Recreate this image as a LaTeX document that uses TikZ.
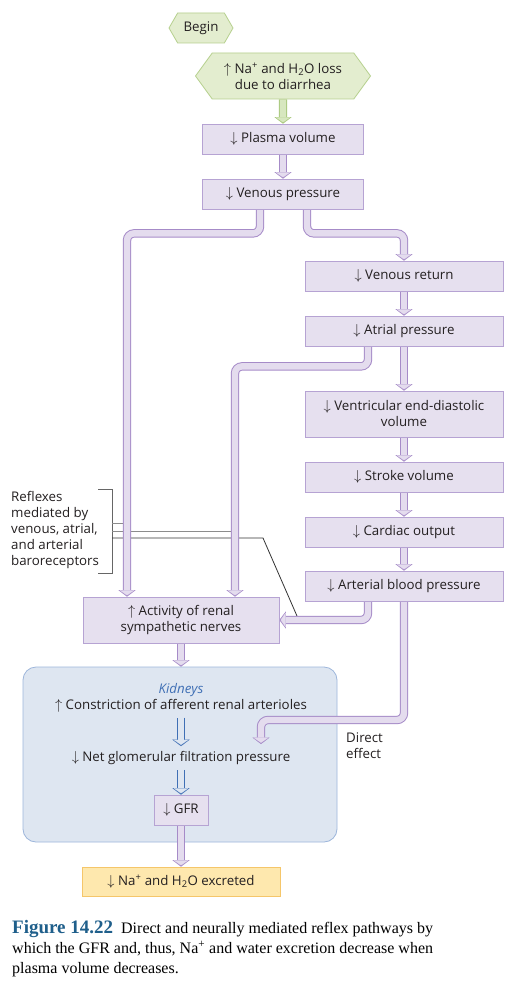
\documentclass[tikz,border=0pt]{standalone}
\usepackage{fontspec}
\setmainfont{Liberation Serif}
\newfontfamily\flowfont{Open Sans}
\usetikzlibrary{arrows.meta,shapes.symbols,backgrounds}

\definecolor{ink}{HTML}{231F20}
\definecolor{boxfill}{HTML}{E6E0EF}
\definecolor{boxedge}{HTML}{B6A3D3}
\definecolor{pipefill}{HTML}{E4DCEE}
\definecolor{pipeedge}{HTML}{A68BC8}
\definecolor{hexfill}{HTML}{E3EDCF}
\definecolor{hexedge}{HTML}{B6D08E}
\definecolor{leaffill}{HTML}{D7E7BF}
\definecolor{leafedge}{HTML}{A8C87C}
\definecolor{kidfill}{HTML}{DEE6F1}
\definecolor{kidedge}{HTML}{9DB6DB}
\definecolor{kidblue}{HTML}{3F6FB5}
\definecolor{excfill}{HTML}{FEE8AE}
\definecolor{excedge}{HTML}{F5C66A}
\definecolor{capblue}{HTML}{1F5F8B}
\definecolor{reflexgray}{HTML}{8C8C8C}

\newcommand\decr{$\downarrow$~}
\newcommand\incr{$\uparrow$~}

\begin{document}
\begin{tikzpicture}[x=1pt, y=-1pt,
  txt/.style = {text=ink, inner sep=2pt, font=\flowfont\fontsize{13.3}{16}\selectfont},
  box/.style = {txt, draw=boxedge, fill=boxfill, line width=0.8pt, minimum height=30pt, align=center},
  hexa/.style = {txt, signal, signal to=west and east, draw=hexedge, fill=hexfill, line width=0.8pt, align=center},
  tube/.style 2 args = {draw=#2, line width=6.4pt, rounded corners=7pt, shorten >=1.3pt,
    -{Triangle[length=5pt,width=14.5pt,line width=0.1pt]},
    preaction={draw=#1, line width=8.4pt, shorten >=0pt, -{Triangle[length=6.5pt,width=17pt,line width=0.1pt]}}},
  pipe/.style = {tube={pipeedge}{pipefill}},
  leafpipe/.style = {tube={leafedge}{leaffill}},
  kidarrow/.style = {tube={kidblue}{kidfill}},
  kidbox/.style = {draw=kidedge, fill=kidfill, line width=0.8pt, rounded corners=13pt, minimum width=314pt, minimum height=175pt},
  bracket/.style = {draw=black!60, line width=0.8pt},
  reflexline/.style = {draw=reflexgray, line width=0.8pt}]

		%Laatikot
		\node[hexa, signal pointer angle=120, minimum width=64pt, minimum height=30pt] (begin) at (201,28) {Begin};
		\node[hexa, signal pointer angle=108, minimum width=175pt, minimum height=46pt] (loss) at (283,76) {\incr Na\textsuperscript{+} and H\textsubscript{2}O loss\\due to diarrhea};
		\node[box, minimum width=161pt] (plasma) at (283,139) {\decr Plasma volume};
		\node[box, minimum width=161pt] (venous) at (283,194) {\decr Venous pressure};
		\node[box, minimum width=198pt] (venret) at (404,276) {\decr Venous return};
		\node[box, minimum width=198pt] (atrial) at (404,331) {\decr Atrial pressure};
		\node[box, minimum width=198pt, minimum height=46pt] (edv) at (404,414) {\decr Ventricular end-diastolic\\volume};
		\node[box, minimum width=198pt] (stroke) at (404,477) {\decr Stroke volume};
		\node[box, minimum width=198pt] (cardiac) at (404,532) {\decr Cardiac output};
		\node[box, minimum width=198pt] (arterial) at (404,586) {\decr Arterial blood pressure};
		\node[box, minimum width=196pt, minimum height=46pt] (renal) at (181,620) {\incr Activity of renal\\sympathetic nerves};
		\node[txt, text=kidblue, font=\flowfont\itshape\fontsize{13.3}{16}\selectfont] (kidlabel) at (181,690) {Kidneys};
		\node[txt, inner sep=5pt] (constrict) at (181,706) {\incr Constriction of afferent renal arterioles};
		\node[txt, inner sep=5pt] (net) at (181,758) {\decr Net glomerular filtration pressure};
		\node[box, minimum width=54pt] (gfr) at (181,810) {\decr GFR};
		\node[box, draw=excedge, fill=excfill, minimum width=198pt, minimum height=29pt] (excreted) at (181,881.5) {\decr Na\textsuperscript{+} and H\textsubscript{2}O excreted};
		\node[txt, align=left, anchor=north west] (direct) at (344,731) {Direct\\effect};
		\node[txt, align=left, anchor=north west] (reflex) at (9,489) {Reflexes\\mediated by\\venous, atrial,\\and arterial\\baroreceptors};
		\coordinate (directend) at (261,744);

		% Nuolet munuaisissa
		\draw[kidarrow] (constrict) -- (net);
		\draw[kidarrow] (net) -- (gfr);

		% Kuvateksti
		\node[anchor=north west, align=left, inner sep=0pt, text=black, font=\fontsize{16}{20}\selectfont] (caption) at (12,920)
			{{\color{capblue}\bfseries\fontsize{19}{20}\selectfont Figure 14.22}\enspace Direct and neurally mediated reflex pathways by\\
			which the GFR and, thus, Na\textsuperscript{+} and water excretion decrease when\\
			plasma volume decreases.};

		\begin{pgfonlayer}{background}
		\fill[white] (0,0) rectangle (517,992);
		\node[kidbox] (kidney) at (180,754.5) {};
		% Refleksit
		\draw[bracket] (98,489) -| (112,573) -- (98,573);
		\draw[reflexline] (112,523) -- (127,523);
		\draw[reflexline] (112,531) -- (235,531);
		\draw[reflexline, draw=black!80] (112,538) -- (263,538) -- (297,616);
		% Putket
		\draw[leafpipe] (loss) -- (plasma);						% loss-plasma
		\draw[pipe] (plasma) -- (venous);						% plasma-venous
		\draw[pipe] ([xshift=-23pt]venous.south) -- ++(0,24) -| ([xshift=-54pt]renal.north);	% venous-renal
		\draw[pipe] ([xshift=24pt]venous.south) -- ++(0,24) -| (venret.north);		% venous-venret
		\draw[pipe] (venret) -- (atrial);						% venret-atrial
		\draw[pipe] ([xshift=-36pt]atrial.south) -- ++(0,20) -| ([xshift=54pt]renal.north);	% atrial-renal
		\draw[pipe] (atrial) -- (edv);							% atrial-edv
		\draw[pipe] (edv) -- (stroke);							% edv-stroke
		\draw[pipe] (stroke) -- (cardiac);						% stroke-cardiac
		\draw[pipe] (cardiac) -- (arterial);						% cardiac-arterial
		\draw[pipe] ([xshift=-36pt]arterial.south) |- (renal.east);			% arterial-renal
		\draw[pipe] (arterial.south) |- ([yshift=24pt]directend) -- (directend);	% arterial-kidney
		\draw[pipe] (renal.south) -- (renal.south |- kidney.north);			% renal-kidney
		\draw[pipe] (gfr) -- (excreted);						% gfr-excreted
		\end{pgfonlayer}
		\useasboundingbox (0,0) rectangle (517,992);
\end{tikzpicture}
\end{document}
